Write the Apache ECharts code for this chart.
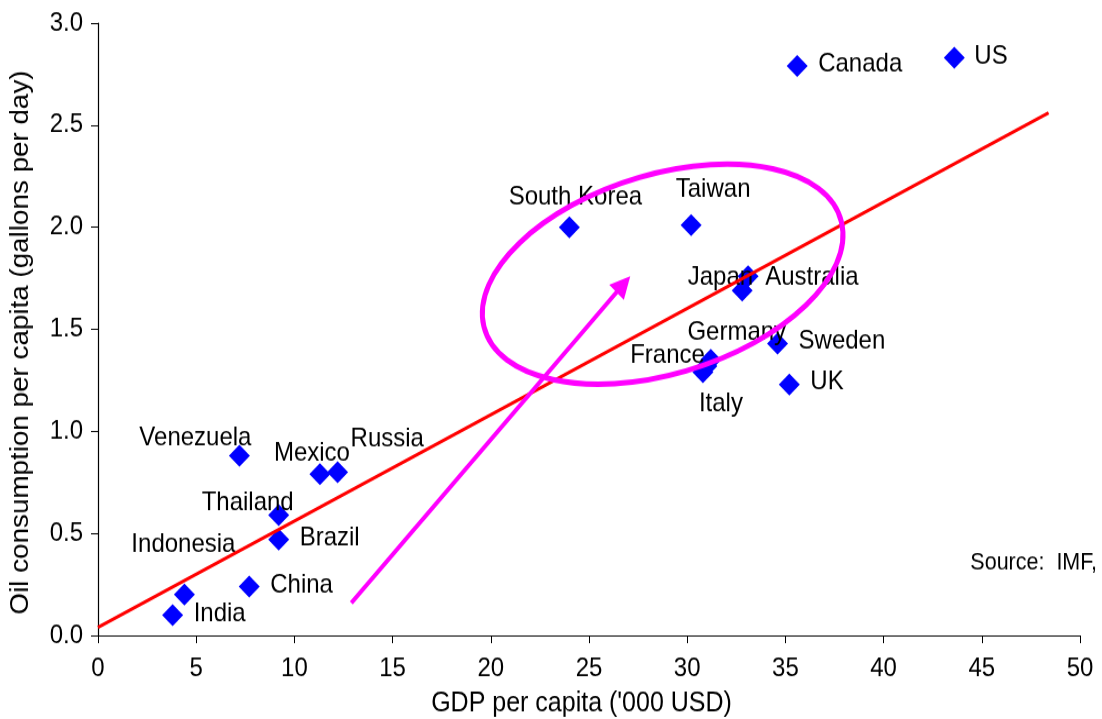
<!DOCTYPE html>
<html>
<head>
<meta charset="utf-8">
<script src="https://cdn.jsdelivr.net/npm/echarts@6/dist/echarts.min.js"></script>
<style>
  html, body { margin: 0; padding: 0; background: #fff; overflow: hidden; }
  #wrap { width: 1102px; height: 719px; overflow: hidden; }
  /* chart is laid out at 654px tall and stretched to the full 719px height */
  #chart { width: 1102px; height: 654px; transform: scaleY(1.0994); transform-origin: 0 0; }
</style>
</head>
<body>
<div id="wrap"><div id="chart"></div></div>
<script>
// GDP per capita ('000 USD) against oil consumption per capita (gallons per day)
const countries = ['US', 'Canada', 'South Korea', 'Taiwan', 'Japan', 'Australia', 'Sweden', 'UK',
  'Germany', 'France', 'Italy', 'Venezuela', 'Mexico', 'Russia', 'Thailand', 'Brazil',
  'Indonesia', 'India', 'China'];
const gdpPerCapita = [43.6, 35.6, 24.0, 30.2, 33.1, 32.8, 34.6, 35.2,
  31.2, 31.0, 30.8, 7.2, 11.3, 12.2, 9.2, 9.2,
  4.4, 3.8, 7.7];
const oilPerCapita = [2.83, 2.79, 2.00, 2.01, 1.76, 1.69, 1.43, 1.23,
  1.35, 1.32, 1.29, 0.88, 0.79, 0.80, 0.59, 0.47,
  0.20, 0.10, 0.24];

// fitted trend line end points
const trendGdp = [0, 48.4];
const trendOil = [0.04, 2.56];

// axis ticks
const xTicks = [0, 5, 10, 15, 20, 25, 30, 35, 40, 45, 50];
const yTicks = [0.0, 0.5, 1.0, 1.5, 2.0, 2.5, 3.0];

// highlighted group of economies and the arrow pointing into it (data units)
const highlightCenter = [28.75, 1.77];
const arrowFrom = [12.9, 0.16];
const arrowTo = [27.1, 1.76];

const sourceNote = 'Source:  IMF,';

// label anchor for each country: [align, dx, dy] from the marker centre
const labelPlacement = {
  'US': ['left', 20, -1],
  'Canada': ['left', 21, -2],
  'South Korea': ['center', 6, -27],
  'Taiwan': ['center', 22, -32],
  'Japan': ['right', 5, 1],
  'Australia': ['left', 23, -12],
  'Sweden': ['left', 21, -2],
  'UK': ['left', 21, -2],
  'Germany': ['center', 26, -25],
  'France': ['right', -2, -10],
  'Italy': ['center', 18, 29],
  'Venezuela': ['center', -44, -16],
  'Mexico': ['center', -8, -19],
  'Russia': ['left', 13, -30],
  'Thailand': ['center', -31, -11],
  'Brazil': ['left', 21, -1],
  'Indonesia': ['center', -1, -45],
  'India': ['left', 21, -1],
  'China': ['left', 21, -1]
};

const FONT = '"Liberation Sans", Arial, Helvetica, sans-serif';

const scatterData = countries.map((name, i) => {
  const p = labelPlacement[name];
  return {
    name: name,
    value: [gdpPerCapita[i], oilPerCapita[i]],
    label: { position: 'inside', align: p[0], verticalAlign: 'middle', offset: [p[1], p[2]] }
  };
});

const chart = echarts.init(document.getElementById('chart'), null, { renderer: 'canvas' });

chart.setOption({
  animation: false,
  backgroundColor: '#ffffff',
  grid: { left: 98, right: 22, top: 21, bottom: 76, containLabel: false, outerBoundsMode: 'none' },
  xAxis: {
    type: 'value',
    min: xTicks[0], max: xTicks[xTicks.length - 1], interval: xTicks[1] - xTicks[0],
    name: "GDP per capita ('000 USD)",
    nameLocation: 'middle', nameGap: 50,
    nameTextStyle: { color: '#000', fontSize: 25, fontFamily: FONT, padding: [0, 15, 0, 0] },
    axisLine: { show: true, lineStyle: { color: '#000', width: 1.2 } },
    axisTick: { show: true, inside: false, length: 7, lineStyle: { color: '#000', width: 1 } },
    axisLabel: { color: '#000', fontSize: 24, fontFamily: FONT, margin: 18 },
    splitLine: { show: false }
  },
  yAxis: {
    type: 'value',
    min: yTicks[0], max: yTicks[yTicks.length - 1], interval: yTicks[1] - yTicks[0],
    name: 'Oil consumption per capita (gallons per day)',
    nameLocation: 'middle', nameGap: 64,
    nameTextStyle: { color: '#000', fontSize: 25.3, fontFamily: FONT, padding: [0, 24, 0, 0] },
    axisLine: { show: true, lineStyle: { color: '#000', width: 1.2 } },
    axisTick: { show: true, inside: false, length: 7, lineStyle: { color: '#000', width: 1 } },
    axisLabel: { color: '#000', fontSize: 24, fontFamily: FONT, margin: 15,
      formatter: v => v.toFixed(1) },
    splitLine: { show: false }
  },
  graphic: [{
    type: 'text', right: 5, top: 501, z: 20,
    style: { text: sourceNote, fill: '#000', fontSize: 21.5, fontFamily: FONT }
  }],
  series: [
    {
      type: 'scatter',
      z: 2,
      symbol: 'diamond',
      symbolSize: [21, 20],
      itemStyle: { color: '#0000FF', opacity: 1 },
      label: { show: true, formatter: '{b}', color: '#000', opacity: 1, fontSize: 24, fontFamily: FONT },
      data: scatterData
    },
    {
      type: 'line',
      z: 4,
      symbol: 'none',
      silent: true,
      lineStyle: { color: '#FF0000', width: 3 },
      data: trendGdp.map((x, i) => [x, trendOil[i]])
    },
    {
      type: 'custom',
      z: 6,
      clip: false,
      silent: true,
      renderItem: function (params, api) {
        const c = api.coord([api.value(0), api.value(1)]);
        return {
          type: 'ellipse',
          x: c[0], y: c[1],
          rotation: 14.9 * Math.PI / 180,
          shape: { cx: 0, cy: 0, rx: 185, ry: 91 },
          style: { fill: 'none', stroke: '#FF00FF', lineWidth: 5 }
        };
      },
      data: [highlightCenter]
    },
    {
      type: 'custom',
      z: 7,
      clip: false,
      silent: true,
      renderItem: function (params, api) {
        const p0 = api.coord([api.value(0), api.value(1)]);
        const p1 = api.coord([api.value(2), api.value(3)]);
        const ang = Math.atan2(p1[1] - p0[1], p1[0] - p0[0]);
        const L = 20, W = 10;
        const bx = p1[0] - L * Math.cos(ang), by = p1[1] - L * Math.sin(ang);
        return {
          type: 'group',
          children: [
            {
              type: 'line',
              shape: { x1: p0[0], y1: p0[1], x2: bx + 2 * Math.cos(ang), y2: by + 2 * Math.sin(ang) },
              style: { stroke: '#FF00FF', lineWidth: 4 }
            },
            {
              type: 'polygon',
              shape: { points: [
                [p1[0], p1[1]],
                [bx + W * Math.sin(ang), by - W * Math.cos(ang)],
                [bx - W * Math.sin(ang), by + W * Math.cos(ang)]
              ] },
              style: { fill: '#FF00FF' }
            }
          ]
        };
      },
      data: [[arrowFrom[0], arrowFrom[1], arrowTo[0], arrowTo[1]]]
    }
  ]
});
</script>
</body>
</html>
